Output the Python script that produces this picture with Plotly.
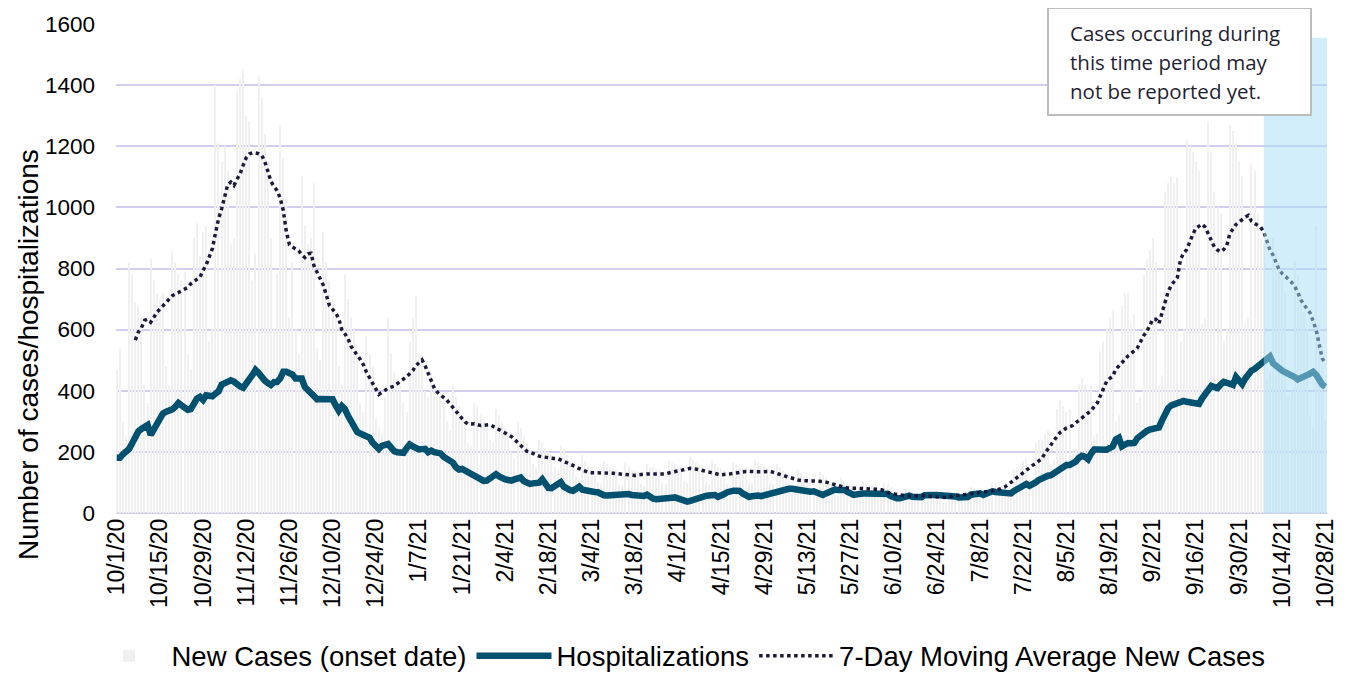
import pandas as pd
import plotly.graph_objects as go

# daily series, 10/1/20 .. 10/28/21
dates = pd.date_range("2020-10-01", "2021-10-28", freq="D")

new_cases = [
    470, 540, 300, 250, 820, 780, 690,
    680, 640, 420, 360, 830, 760, 720,
    700, 720, 480, 420, 860, 820, 780,
    760, 790, 520, 470, 900, 950, 840,
    920, 940, 560, 600, 1400, 1210, 1150,
    1200, 1120, 880, 900, 1380, 1420, 1450,
    1300, 1280, 760, 850, 1430, 1360, 1240,
    1150, 900, 600, 780, 1270, 1160, 1030,
    640, 820, 600, 520, 1100, 940, 880,
    900, 1080, 540, 500, 920, 820, 760,
    700, 640, 480, 420, 780, 700, 640,
    600, 520, 360, 330, 580, 520, 480,
    310, 280, 260, 380, 640, 520, 460,
    440, 420, 360, 330, 560, 640, 710,
    520, 480, 400, 380, 460, 420, 390,
    380, 360, 300, 270, 420, 380, 350,
    320, 300, 230, 220, 360, 350, 320,
    300, 290, 240, 230, 340, 320, 300,
    280, 260, 200, 180, 300, 280, 250,
    230, 210, 160, 150, 240, 230, 210,
    200, 190, 150, 140, 220, 210, 190,
    170, 160, 120, 110, 190, 170, 150,
    150, 140, 100, 95, 170, 160, 150,
    145, 140, 95, 90, 165, 150, 140,
    140, 135, 95, 90, 160, 150, 150,
    145, 140, 100, 95, 170, 165, 160,
    155, 150, 105, 100, 185, 175, 165,
    160, 150, 100, 95, 170, 160, 150,
    145, 140, 95, 90, 165, 160, 150,
    150, 150, 100, 100, 175, 165, 160,
    155, 150, 100, 95, 160, 150, 140,
    130, 125, 80, 75, 140, 130, 120,
    120, 115, 75, 70, 135, 125, 115,
    105, 100, 60, 55, 115, 105, 95,
    90, 85, 55, 50, 105, 100, 90,
    90, 85, 55, 50, 100, 95, 85,
    70, 65, 40, 35, 80, 75, 70,
    65, 60, 40, 35, 75, 70, 65,
    60, 55, 35, 35, 75, 70, 65,
    65, 65, 40, 40, 85, 80, 75,
    75, 75, 45, 45, 100, 95, 85,
    90, 95, 60, 60, 140, 150, 150,
    170, 180, 110, 110, 230, 240, 240,
    260, 270, 160, 170, 340, 370, 350,
    330, 340, 200, 210, 420, 440, 420,
    400, 420, 250, 260, 530, 560, 600,
    640, 660, 300, 320, 680, 720, 720,
    620, 650, 360, 380, 780, 830, 860,
    900, 820, 420, 450, 1050, 1080, 1100,
    1080, 1100, 560, 600, 1220, 1200, 1180,
    1150, 1120, 620, 640, 1280, 1180, 1050,
    1000, 980, 560, 600, 1270, 1250, 1210,
    1150, 1100, 620, 640, 1140, 1120, 980,
    900, 880, 440, 460, 900, 860, 820,
    760, 720, 380, 400, 820, 780, 720,
    660, 600, 320, 280, 940, 620, 480,
    300,
]

hospitalizations = [
    181, 181, 192, 200, 210, 228, 255, 267, 275, 285,
    288, 256, 275, 291, 318, 326, 331, 334, 339, 348,
    360, 352, 343, 338, 340, 362, 374, 380, 370, 385,
    386, 382, 390, 398, 420, 426, 430, 434, 430, 420,
    414, 410, 421, 438, 452, 468, 458, 442, 433, 425,
    419, 428, 429, 440, 462, 462, 456, 453, 440, 442,
    440, 412, 400, 390, 378, 372, 373, 374, 375, 374,
    372, 352, 335, 350, 340, 318, 300, 280, 265, 260,
    257, 254, 246, 230, 219, 210, 220, 226, 226, 214,
    202, 199, 198, 197, 212, 224, 218, 212, 208, 209,
    210, 199, 204, 199, 195, 195, 184, 177, 171, 165,
    150, 142, 144, 139, 134, 128, 124, 115, 110, 105,
    106, 112, 120, 127, 120, 113, 110, 108, 106, 110,
    114, 116, 104, 98, 95, 97, 97, 99, 110, 97,
    82, 81, 86, 93, 101, 86, 78, 75, 73, 80,
    86, 76, 73, 72, 70, 69, 68, 60, 58, 57,
    58, 60, 62, 62, 63, 64, 62, 59, 57, 56,
    56, 56, 60, 52, 47, 45, 47, 48, 48, 48,
    50, 51, 48, 45, 40, 37, 40, 44, 48, 51,
    54, 56, 57, 58, 59, 53, 55, 62, 68, 72,
    73, 73, 72, 64, 57, 53, 55, 58, 57, 55,
    58, 61, 66, 69, 71, 72, 75, 79, 79, 79,
    77, 75, 73, 71, 70, 70, 71, 66, 61, 59,
    64, 69, 75, 77, 75, 75, 75, 69, 64, 59,
    61, 64, 64, 64, 64, 64, 64, 65, 66, 64,
    62, 55, 50, 48, 48, 50, 55, 57, 53, 51,
    51, 52, 58, 60, 59, 59, 59, 59, 58, 57,
    58, 59, 54, 51, 51, 47, 52, 60, 61, 67,
    64, 59, 63, 67, 71, 69, 68, 69, 70, 68,
    64, 72, 79, 84, 90, 95, 89, 93, 100, 108,
    114, 118, 122, 124, 131, 138, 147, 153, 157, 157,
    162, 168, 180, 187, 184, 176, 195, 208, 208, 207,
    205, 207, 212, 218, 240, 246, 218, 225, 229, 228,
    229, 245, 254, 259, 268, 273, 277, 279, 280, 303,
    325, 343, 352, 357, 359, 362, 367, 364, 361, 361,
    359, 357, 375, 390, 402, 416, 412, 409, 420, 429,
    426, 422, 419, 445, 436, 422, 440, 458, 466, 471,
    478, 487, 495, 501, 512, 490, 480, 472, 465, 460,
    456, 451, 445, 437, 440, 448, 451, 456, 462, 452,
    434, 420, 413,
]

# 7-day average starts on day 7 of the series
moving_avg = [None] * 6 + [
    566, 592, 606, 630, 634, 624, 640, 657, 667, 678,
    688, 702, 711, 716, 722, 728, 733, 738, 750, 758,
    765, 772, 794, 812, 838, 865, 915, 962, 995, 1040,
    1075, 1083, 1072, 1092, 1110, 1138, 1163, 1175, 1179, 1178,
    1176, 1171, 1150, 1118, 1085, 1068, 1055, 1030, 990, 920,
    878, 870, 863, 858, 845, 836, 848, 850, 808, 785,
    765, 745, 712, 678, 666, 655, 636, 600, 586, 570,
    545, 528, 516, 502, 485, 460, 442, 425, 402, 388,
    395, 403, 408, 412, 415, 423, 430, 438, 446, 456,
    466, 482, 492, 501, 482, 456, 432, 408, 395, 385,
    378, 370, 357, 347, 332, 322, 309, 298, 290, 291,
    292, 289, 286, 287, 288, 289, 284, 279, 273, 267,
    262, 256, 250, 240, 230, 221, 212, 202, 199, 194,
    190, 186, 184, 182, 180, 179, 178, 178, 174, 169,
    165, 161, 157, 151, 145, 141, 136, 133, 132, 132,
    132, 132, 132, 131, 131, 130, 129, 128, 126, 124,
    123, 123, 123, 125, 127, 127, 128, 128, 128, 129,
    129, 129, 128, 131, 133, 135, 137, 140, 142, 144,
    146, 145, 144, 142, 139, 136, 134, 132, 129, 127,
    125, 125, 127, 128, 130, 131, 132, 134, 136, 136,
    135, 135, 135, 135, 135, 136, 136, 133, 129, 126,
    123, 120, 117, 113, 110, 108, 106, 105, 105, 105,
    105, 105, 104, 103, 101, 98, 94, 91, 88, 85,
    84, 82, 81, 81, 80, 80, 80, 80, 80, 79,
    78, 77, 76, 72, 66, 63, 62, 61, 60, 59,
    58, 56, 54, 56, 57, 58, 57, 55, 54, 53,
    52, 52, 51, 51, 53, 56, 58, 58, 58, 60,
    62, 64, 65, 66, 67, 68, 69, 71, 72, 74,
    77, 80, 85, 92, 100, 110, 118, 126, 135, 143,
    150, 156, 162, 170, 178, 195, 210, 220, 240, 252,
    264, 272, 278, 282, 286, 295, 303, 311, 318, 326,
    335, 348, 360, 384, 405, 430, 440, 447, 470, 482,
    492, 505, 514, 522, 531, 540, 560, 580, 592, 612,
    634, 634, 620, 655, 692, 725, 745, 757, 772, 830,
    850, 862, 888, 912, 932, 940, 945, 935, 915, 895,
    870, 860, 855, 862, 875, 915, 930, 944, 952, 961,
    968, 974, 955, 948, 942, 935, 920, 885, 860, 844,
    822, 795, 783, 772, 765, 755, 742, 722, 698, 682,
    670, 655, 628, 598, 550, 505, 490,
]

y_ticks = [0, 200, 400, 600, 800, 1000, 1200, 1400, 1600]
note_lines = ["Cases occuring during", "this time period may", "not be reported yet."]

GRID = "#D2CEEE"
FONT = "Liberation Sans, Arial, sans-serif"

fig = go.Figure()
fig.add_trace(go.Bar(
    x=dates, y=new_cases, name="New Cases (onset date)",
    marker_color="#F0F0F0", marker_line_width=0,
))
fig.add_trace(go.Scatter(
    x=dates, y=hospitalizations, name="Hospitalizations", mode="lines",
    line=dict(color="#00506F", width=6.5),
))
fig.add_trace(go.Scatter(
    x=dates, y=moving_avg, name="7-Day Moving Average New Cases", mode="lines",
    line=dict(color="#1B1A3A", width=3.5, dash="dot"),
))

# shaded "not yet reported" period, drawn over the lines
fig.add_shape(
    type="rect", xref="x", yref="y",
    x0="2021-10-08", x1="2021-10-28 12:00", y0=0, y1=1555,
    fillcolor="rgba(168,222,247,0.5)", line_width=0, layer="above",
)

# note box
fig.add_shape(
    type="rect", xref="paper", yref="paper",
    x0=0.7696, x1=0.9868, y0=0.8139, y1=1.0327,
    fillcolor="white", line=dict(color="#BDBDBD", width=2), layer="above",
)
for i, line in enumerate(note_lines):
    fig.add_annotation(
        xref="paper", yref="paper", x=0.7861, y=0.9816 - i * 0.0593,
        xanchor="left", yanchor="middle", showarrow=False, text=line,
        font=dict(family="Open Sans, Noto Sans, sans-serif", size=20.5, color="#1F1F33"),
    )

# y-axis title sits lower than the plot centre in the original
fig.add_annotation(
    xref="paper", yref="paper", x=-0.0727, y=0.325, textangle=-90,
    xanchor="center", yanchor="middle", showarrow=False,
    text="Number of cases/hospitalizations", font=dict(size=28),
)

# page body adds an 8px offset, so the figure is sized 8px smaller
fig.update_layout(
    width=1340, height=666,
    margin=dict(l=108, r=21, t=16, b=161, autoexpand=False),
    paper_bgcolor="white", plot_bgcolor="white",
    bargap=0.65,
    font=dict(family=FONT, color="black"),
    showlegend=True,
    legend=dict(
        orientation="h", x=0.4645, xanchor="center", y=-0.292, yanchor="middle",
        font=dict(size=27.5), itemwidth=75, tracegroupgap=0,
    ),
    xaxis=dict(
        range=["2020-09-30 18:00", "2021-10-28 12:00"],
        tick0="2020-10-01", dtick=14 * 86400000, tickformat="%-m/%-d/%y",
        tickangle=-90, tickfont=dict(size=23), showgrid=False,
        ticks="", showline=False, zeroline=False, automargin=False,
    ),
    yaxis=dict(
        range=[0, 1600], tickvals=y_ticks, tickfont=dict(size=22.5),
        gridcolor=GRID, gridwidth=2, zeroline=True, zerolinecolor=GRID,
        zerolinewidth=2, ticks="", ticklabelstandoff=20, automargin=False,
    ),
)

fig.write_html("out.html")
